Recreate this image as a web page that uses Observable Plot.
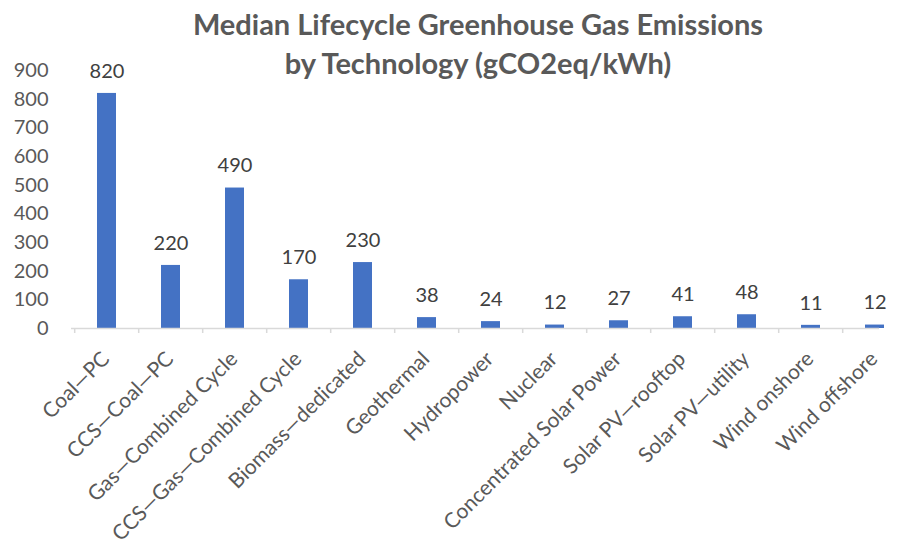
<!DOCTYPE html>
<html>
<head>
<meta charset="utf-8">
<script src="https://cdn.jsdelivr.net/npm/d3@7"></script>
<script src="https://cdn.jsdelivr.net/npm/@observablehq/plot@0.6"></script>
<style>
  html, body { margin: 0; padding: 0; background: #fff; }
  #wrap { position: relative; width: 899px; height: 546px; overflow: hidden; font-family: Lato, "Open Sans", sans-serif; }
  #title { position: absolute; left: 0; width: 956px; top: 4px; text-align: center; font-weight: bold; font-size: 29px; line-height: 39px; color: #595959; }
  #chart { position: absolute; left: 0; top: 0; }
</style>
</head>
<body>
<div id="wrap">
  <div id="chart"></div>
  <div id="title">Median Lifecycle Greenhouse Gas Emissions<br>by Technology (gCO2eq/kWh)</div>
</div>
<script>
const technologies = [
  "Coal—PC", "CCS—Coal—PC", "Gas—Combined Cycle", "CCS—Gas—Combined Cycle",
  "Biomass—dedicated", "Geothermal", "Hydropower", "Nuclear",
  "Concentrated Solar Power", "Solar PV—rooftop", "Solar PV—utility",
  "Wind onshore", "Wind offshore"
];
const emissions = [820, 220, 490, 170, 230, 38, 24, 12, 27, 41, 48, 11, 12];
const yTicks = [0, 100, 200, 300, 400, 500, 600, 700, 800, 900];

const data = technologies.map((t, i) => ({tech: t, value: emissions[i]}));

const xRange = [71, 911];
const step = (xRange[1] - xRange[0]) / technologies.length;

const chart = Plot.plot({
  width: 899,
  height: 546,
  marginLeft: 71,
  marginTop: 70,
  marginBottom: 218,
  style: {fontFamily: "Lato, 'Open Sans', sans-serif", fontSize: "20px", color: "#595959", background: "transparent"},
  x: {type: "band", domain: technologies, range: xRange, paddingInner: 0.7, paddingOuter: 0.35, align: 0.5, label: null},
  y: {domain: [0, 900], range: [328, 70], label: null},
  marks: [
    Plot.axisY({ticks: yTicks, tickSize: 0, tickPadding: 23, fontSize: 20, fill: "#595959", label: null}),
    Plot.axisX({tickSize: 0, tickRotate: -45, tickPadding: 27, dx: -1, fontSize: 21, fill: "#595959", label: null}),
    Plot.barY(data, {x: "tech", y: "value", fill: "#4472C4"}),
    Plot.ruleY([0], {stroke: "#d9d9d9", strokeWidth: 1.5}),
    Plot.ruleX(technologies, {x: d => d, dx: -step / 2, y1: 0, y2: 0, insetBottom: -5, stroke: "#d9d9d9", strokeWidth: 1.5}),
    Plot.text(data, {x: "tech", y: "value", text: d => String(d.value), dy: -22, fontSize: 20, fill: "#404040"})
  ]
});
document.getElementById("chart").appendChild(chart);
</script>
</body>
</html>
